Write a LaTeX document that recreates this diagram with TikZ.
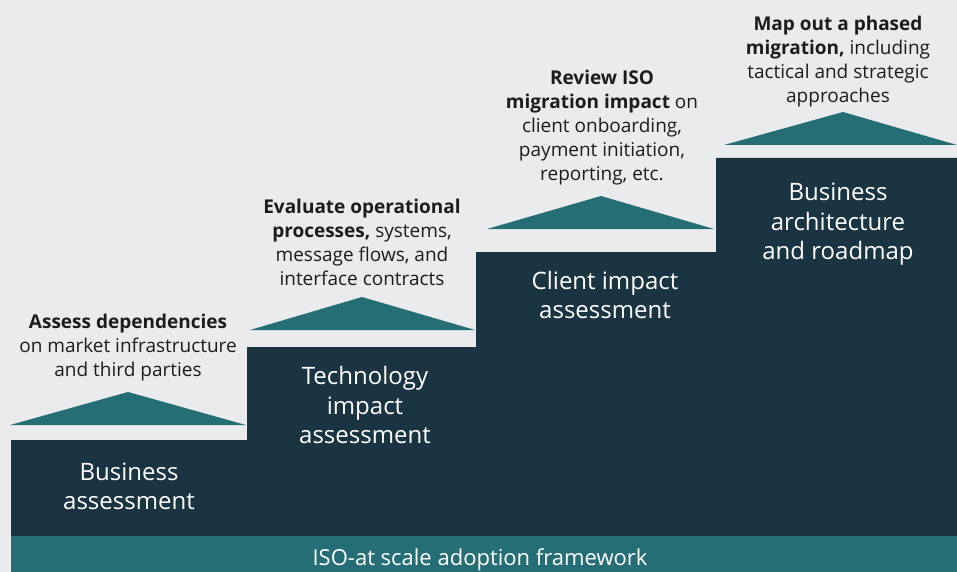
\documentclass[tikz,border=0pt]{standalone}
\usepackage{fontspec}
\setmainfont{Open Sans}
\definecolor{bgc}{HTML}{EAEBED}
\definecolor{darkc}{HTML}{1A3442}
\definecolor{tealc}{HTML}{266E75}
\definecolor{txtc}{HTML}{1C1C1C}
\tikzset{
  desc/.style={font=\fontsize{19}{24}\selectfont, text=txtc, align=center, inner sep=0pt},
  steplabel/.style={font=\fontsize{24}{29.5}\selectfont, text=white, align=center, inner sep=0pt},
  roof/.style={fill=tealc},
}
\begin{document}
\begin{tikzpicture}[x=1pt,y=-1pt]
\fill[bgc] (0,0) rectangle (957,572);
% dark staircase
\fill[darkc] (11,536) -- (11,440) -- (247,440) -- (247,347) -- (476,347) -- (476,252) -- (716,252) -- (716,158) -- (957,158) -- (957,536) -- cycle;
% bottom bar
\fill[tealc] (11,536) rectangle (957,572);
\node[font=\fontsize{22}{24}\selectfont, text=white, inner sep=0pt] (bar) at (480,559.5) {ISO-at scale adoption framework};
% roofs
\fill[roof] (10,425) -- (128,392) -- (246,425) -- cycle;
\fill[roof] (250,330) -- (362,297) -- (475,330) -- cycle;
\fill[roof] (487,229) -- (601,196) -- (714,229) -- cycle;
\fill[roof] (724,145) -- (843,112) -- (957,145) -- cycle;
% step labels
\node[steplabel] (s1) at (129,486.5) {Business\\assessment};
\node[steplabel] (s2) at (365,405) {Technology\\impact\\assessment};
\node[steplabel] (s3) at (605,295) {Client impact\\assessment};
\node[steplabel] (s4) at (838,224.5) {Business\\architecture\\and roadmap};
% descriptions
\node[desc] (d1) at (128,347.5) {\textbf{Assess dependencies}\\on market infrastructure\\and third parties};
\node[desc] (d2) at (362,242) {\textbf{Evaluate operational}\\\textbf{processes,} systems,\\message flows, and\\interface contracts};
\node[desc] (d3) at (602,127.5) {\textbf{Review ISO}\\\textbf{migration impact} on\\client onboarding,\\payment initiation,\\reporting, etc.};
\node[desc] (d4) at (838,61.5) {\textbf{Map out a phased}\\\textbf{migration,} including\\tactical and strategic\\approaches};
\end{tikzpicture}
\end{document}
